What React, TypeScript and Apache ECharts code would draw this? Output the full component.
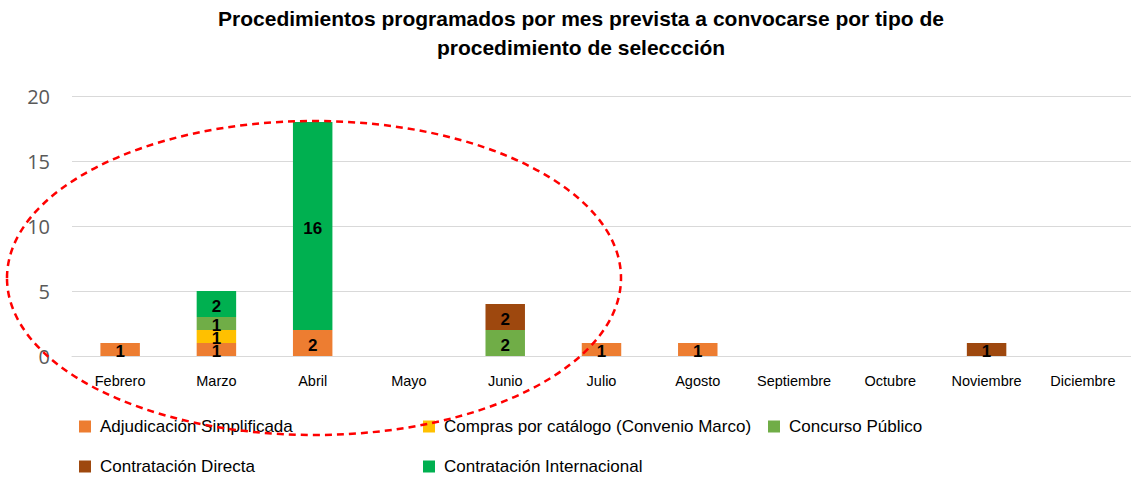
import React, { useEffect, useRef } from "react";
import * as echarts from "echarts";

const months = ["Febrero", "Marzo", "Abril", "Mayo", "Junio", "Julio", "Agosto", "Septiembre", "Octubre", "Noviembre", "Diciembre"];
const seriesNames = [
  "Adjudicación Simplificada",
  "Compras por catálogo (Convenio Marco)",
  "Concurso Público",
  "Contratación Directa",
  "Contratación Internacional",
];
const adjudicacion = [1, 1, 2, 0, 0, 1, 1, 0, 0, 0, 0];
const compras = [0, 1, 0, 0, 0, 0, 0, 0, 0, 0, 0];
const concurso = [0, 1, 0, 0, 2, 0, 0, 0, 0, 0, 0];
const directa = [0, 0, 0, 0, 2, 0, 0, 0, 0, 1, 0];
const internacional = [0, 2, 16, 0, 0, 0, 0, 0, 0, 0, 0];
const seriesValues = [adjudicacion, compras, concurso, directa, internacional];
const colors = ["#ED7D31", "#FFC000", "#70AD47", "#9E480E", "#00B050"];
const yTicks = [0, 5, 10, 15, 20];

const narrow = "'Liberation Sans Narrow', 'Arial Narrow', 'Liberation Sans', Arial, sans-serif";

export default function App() {
  const ref = useRef<HTMLDivElement>(null);
  useEffect(() => {
    if (!ref.current) return;
    const chart = echarts.init(ref.current, undefined, { renderer: "svg" });
    const legendPos = [
      { left: 74, top: 413 },
      { left: 418, top: 413 },
      { left: 763, top: 413 },
      { left: 74, top: 453 },
      { left: 418, top: 453 },
    ];
    chart.setOption({
      animation: false,
      backgroundColor: "#ffffff",
      title: {
        text: "Procedimientos programados por mes prevista a convocarse por tipo de\nprocedimiento de seleccción",
        left: 576,
        textAlign: "center",
        top: -1,
        textStyle: {
          fontFamily: narrow,
          fontWeight: "bold",
          fontSize: 21,
          lineHeight: 29,
          color: "#000000",
        },
      },
      legend: seriesNames.map((n, i) => ({
        data: [n],
        left: legendPos[i].left,
        top: legendPos[i].top,
        itemWidth: 12,
        itemHeight: 12,
        itemGap: 0,
        icon: "rect",
        selectedMode: false,
        textStyle: { fontFamily: narrow, fontSize: 17, color: "#000000", padding: [0, 0, 0, 4] },
      })),
      grid: { left: 72, right: -9, top: 96, bottom: 123, containLabel: false },
      xAxis: {
        type: "category",
        data: months,
        axisLine: { show: true, lineStyle: { color: "#D9D9D9", width: 1 } },
        axisTick: { show: false },
        axisLabel: { fontFamily: narrow, fontSize: 14.5, color: "#000000", margin: 17, interval: 0 },
      },
      yAxis: {
        type: "value",
        min: yTicks[0],
        max: yTicks[yTicks.length - 1],
        interval: 5,
        axisLine: { show: false },
        axisTick: { show: false },
        splitLine: { lineStyle: { color: "#D9D9D9", width: 1 } },
        axisLabel: { fontFamily: "'Open Sans', Calibri, sans-serif", fontSize: 20, color: "#595959", margin: 22 },
      },
      series: seriesNames.map((n, i) => ({
        name: n,
        type: "bar",
        stack: "total",
        barWidth: "41%",
        data: seriesValues[i],
        itemStyle: { color: colors[i] },
        label: {
          show: true,
          position: "inside",
          offset: [0, 2],
          fontFamily: narrow,
          fontWeight: "bold",
          fontSize: 17,
          color: "#000000",
          formatter: (p: any) => (p.value ? String(p.value) : ""),
        },
      })),
      graphic: [
        {
          type: "ellipse",
          z: 100,
          shape: { cx: 314, cy: 278, rx: 307, ry: 157 },
          style: { fill: "none", stroke: "#FF0000", lineWidth: 2.5, lineDash: [7, 5] },
        },
      ],
    });
    return () => chart.dispose();
  }, []);
  return <div ref={ref} style={{ position: "fixed", left: 0, top: 0, width: 1131, height: 479 }} />;
}
